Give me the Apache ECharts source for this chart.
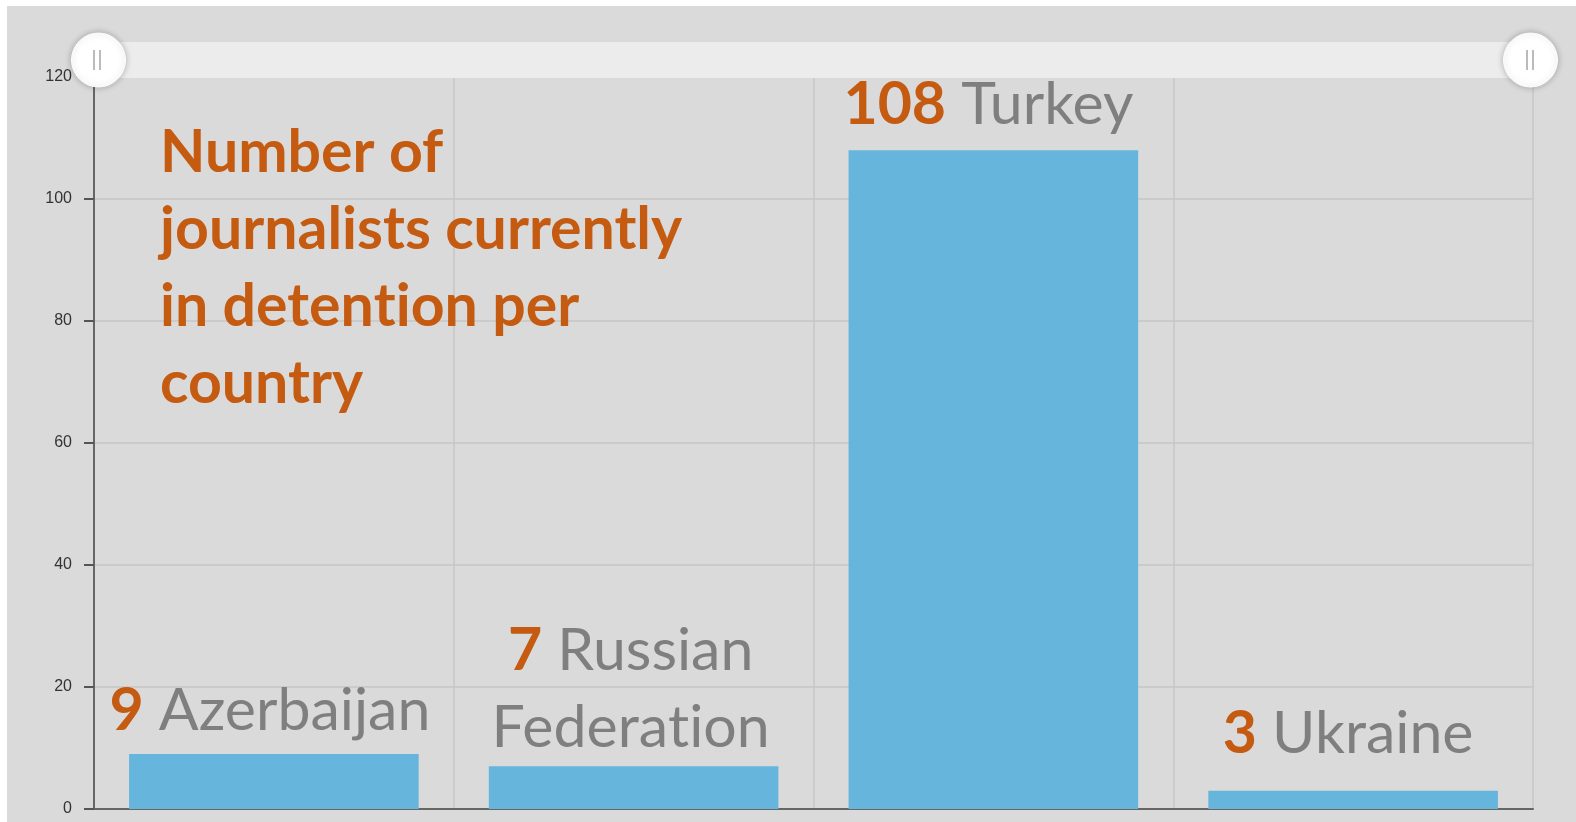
<!DOCTYPE html>
<html>
<head>
<meta charset="utf-8">
<title>Journalists in detention</title>
<script src="https://cdn.jsdelivr.net/npm/echarts@6/dist/echarts.min.js"></script>
<style>
  html, body { margin: 0; padding: 0; background: #fff; }
  #chart {
    position: absolute;
    left: 7px;
    top: 6px;
    width: 1569px;
    height: 816px;
  }
</style>
</head>
<body>
<div id="chart"></div>
<script>
// data
var countries = ['Azerbaijan', 'Russian\nFederation', 'Turkey', 'Ukraine']
var detained = [9, 7, 108, 3]
var yTicks = [0, 20, 40, 60, 80, 100, 120]
var titleLines = ['Number of', 'journalists currently', 'in detention per', 'country']

// label tweaks per bar (distance above bar, sideways shift)
var labelDistance = [5, 0, 7, 18]
var labelShift = [-4, -3, -5, -5]

var orange = '#c55a11'
var grey = '#7f7f7f'
var labelFont = 'Lato, "Open Sans", sans-serif'
var bigSize = 59

// Lato draws "ti" as a ligature; cutting the text into two rich tokens there avoids it
function noLig(str, style) {
  return str.split('ti').map(function(s) {
    return '{' + style + '|' + s + '}'
  }).join('{' + style + '|t}{' + style + '|i}')
    .replace(new RegExp('\\{' + style + '\\|\\}', 'g'), '')
}

var chart = echarts.init(document.getElementById('chart'))

var barData = detained.map(function(v, i) {
  return {
    value: v,
    label: {
      distance: labelDistance[i],
      offset: [labelShift[i], 0]
    }
  }
})

var titleStyle = {
  color: orange,
  fontFamily: labelFont,
  fontWeight: 'bold',
  fontSize: bigSize,
  lineHeight: 77
}

var option = {
  backgroundColor: '#dadada',
  animation: false,
  title: {
    text: titleLines.map(function(l) { return noLig(l, 't') }).join('\n'),
    left: 148,
    top: 103,
    textStyle: {
      color: orange,
      fontFamily: labelFont,
      fontWeight: 'bold',
      fontSize: bigSize,
      lineHeight: 77,
      rich: { t: titleStyle }
    }
  },
  grid: {
    left: 87,
    right: 43,
    top: 71,
    bottom: 13
  },
  dataZoom: [{
    type: 'slider',
    xAxisIndex: 0,
    start: 0,
    end: 100,
    left: 89,
    right: 46,
    top: 36,
    height: 36,
    backgroundColor: '#ececec',
    borderColor: 'transparent',
    fillerColor: 'rgba(0,0,0,0)',
    showDataShadow: false,
    showDetail: false,
    brushSelect: false,
    moveHandleSize: 0,
    handleIcon: 'circle',
    handleSize: '150%',
    handleStyle: {
      color: '#fff',
      borderColor: '#fff',
      shadowBlur: 6,
      shadowColor: 'rgba(0,0,0,0.25)'
    }
  }],
  xAxis: {
    type: 'category',
    data: countries,
    axisLine: { lineStyle: { color: '#666', width: 2 } },
    axisTick: { alignWithLabel: true, length: 7, lineStyle: { color: '#888' } },
    axisLabel: { show: false },
    splitLine: { show: true, lineStyle: { color: '#c6c6c6', width: 1.5 } }
  },
  yAxis: {
    type: 'value',
    min: yTicks[0],
    max: yTicks[yTicks.length - 1],
    interval: yTicks[1] - yTicks[0],
    axisLine: { show: true, lineStyle: { color: '#666', width: 2 } },
    axisTick: { show: true, length: 10, lineStyle: { color: '#555', width: 2 } },
    axisLabel: {
      margin: 22,
      color: '#333',
      fontSize: 16,
      fontFamily: '"Liberation Sans", Arial, sans-serif'
    },
    splitLine: { lineStyle: { color: '#c6c6c6', width: 1.5 } }
  },
  series: [{
    type: 'bar',
    data: barData,
    barCategoryGap: '19.5%',
    itemStyle: { color: '#66b5dc' },
    label: {
      show: true,
      position: 'top',
      align: 'center',
      formatter: function(p) {
        var lines = countries[p.dataIndex].split('\n')
        var res = '{v|' + p.value + '}' + noLig(' ' + lines[0], 'n')
        for (var i = 1; i < lines.length; i++) {
          res += '\n' + noLig(lines[i], 'n')
        }
        return res
      },
      rich: {
        v: {
          color: orange,
          fontFamily: labelFont,
          fontWeight: 'bold',
          fontSize: bigSize,
          lineHeight: 77
        },
        n: {
          color: grey,
          fontFamily: labelFont,
          fontSize: bigSize,
          lineHeight: 77
        }
      }
    }
  }],
  // grip marks on the slider handles
  graphic: [
    { type: 'rect', z: 100, left: 86, top: 44, shape: { width: 2, height: 20 }, style: { fill: '#bbb' } },
    { type: 'rect', z: 100, left: 92, top: 44, shape: { width: 2, height: 20 }, style: { fill: '#bbb' } },
    { type: 'rect', z: 100, left: 1519, top: 44, shape: { width: 2, height: 20 }, style: { fill: '#bbb' } },
    { type: 'rect', z: 100, left: 1525, top: 44, shape: { width: 2, height: 20 }, style: { fill: '#bbb' } }
  ]
}

chart.setOption(option)
window.addEventListener('resize', function() {
  chart.resize()
})
</script>
</body>
</html>
